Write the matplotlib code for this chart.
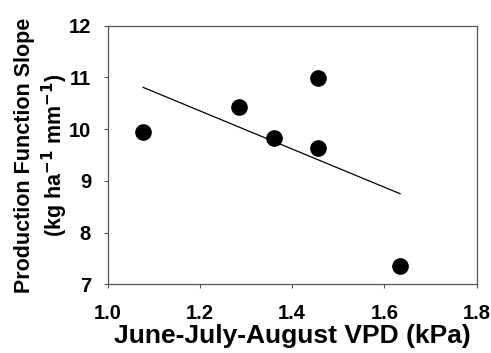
import numpy as np
import matplotlib
matplotlib.use('Agg')
import matplotlib.pyplot as plt

plt.rcParams['font.family'] = ['Liberation Sans', 'DejaVu Sans']

# June-July-August VPD (kPa) and production function slope
vpd = [1.077, 1.285, 1.361, 1.455, 1.455, 1.634]
slope = [9.95, 10.43, 9.83, 10.98, 9.64, 7.35]

xticks = [1.0, 1.2, 1.4, 1.6, 1.8]
yticks = [7, 8, 9, 10, 11, 12]

fig = plt.figure(figsize=(4.91, 3.53), dpi=100)
ax = fig.add_axes([0.2193, 0.1946, 0.7515, 0.7326])

# linear fit drawn over the data range
b, a = np.polyfit(vpd, slope, 1)
xf = np.array([min(vpd), max(vpd)])
ax.plot(xf, a + b * xf, color='black', lw=0.9)

ax.plot(vpd, slope, 'o', color='black', markersize=12, markeredgewidth=0)

ax.set_xlim(1.0, 1.8)
ax.set_ylim(7, 12)
ax.set_xticks(xticks)
ax.set_yticks(yticks)
ax.set_xticklabels(['%.1f' % v for v in xticks])
ax.tick_params(direction='out', length=3, width=0.8, color='#555555',
               labelsize=14.5)
ax.tick_params(axis='x', pad=11)
ax.tick_params(axis='y', pad=9)
for lab in ax.get_xticklabels() + ax.get_yticklabels():
    lab.set_fontweight('bold')
for sp in ax.spines.values():
    sp.set_color('#555555')
    sp.set_linewidth(0.9)

ax.set_xlabel('June-July-August VPD (kPa)', fontsize=19, fontweight='bold',
              labelpad=1)
ax.set_ylabel('Production Function Slope\n(kg ha$^{\\mathbf{-1}}$ mm$^{\\mathbf{-1}}$)',
              fontsize=15.5, fontweight='bold', labelpad=-1, linespacing=1.2)

fig.savefig('out.png', dpi=100)
